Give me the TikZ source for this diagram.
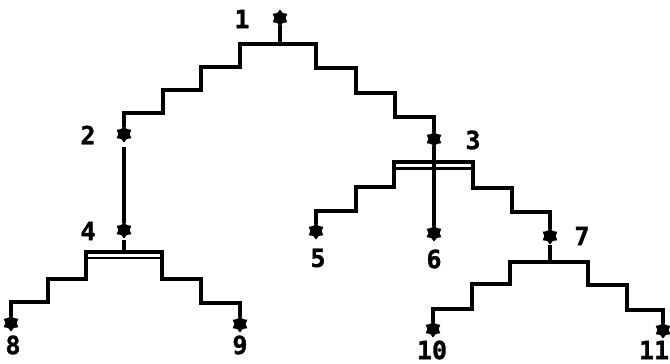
\documentclass[tikz,border=0pt]{standalone}
\usepackage{fontspec}
\newfontfamily\lblfont[FakeBold=1.2]{DejaVu Sans Mono Bold}
\usetikzlibrary{shapes.geometric}
\begin{document}
\begin{tikzpicture}[x=1pt,y=-1pt,
  wire/.style={line width=3.4pt,line join=miter,line cap=rect},
  wirethin/.style={line width=2.4pt,line cap=rect},
  knot/.style={star,star points=6,star point ratio=1.5,minimum size=15pt,inner sep=0pt,fill=black,draw=black,line width=1.2pt},
  lbl/.style={font=\lblfont\fontsize{25}{25}\selectfont,inner sep=0pt,text=black}]
\useasboundingbox (0,0) rectangle (670,364);
\fill[white] (0,0) rectangle (670,364);
% nodes (stars)
\node[knot] (s1) at (280,18) {};
\node[knot] (s2) at (124,134) {};
\node[knot] (s3) at (434,139) {};
\node[knot] (s4) at (124,230) {};
\node[knot] (s5) at (316,231) {};
\node[knot] (s6) at (434,233) {};
\node[knot] (s7) at (550,236) {};
\node[knot] (s8) at (11,323) {};
\node[knot] (s9) at (240,324) {};
\node[knot] (s10) at (433,329) {};
\node[knot] (s11) at (663,330) {};
% labels
\node[lbl] (l1) at (242,19) {1};
\node[lbl] (l2) at (88,135) {2};
\node[lbl] (l3) at (473,140) {3};
\node[lbl] (l4) at (88,231) {4};
\node[lbl] (l5) at (318,258) {5};
\node[lbl] (l6) at (434,259) {6};
\node[lbl] (l7) at (582,236) {7};
\node[lbl] (l8) at (13,345) {8};
\node[lbl] (l9) at (240,345) {9};
\node[lbl] (l10) at (432,350) {10};
\node[lbl] (l11) at (654,350) {11};
% bar coordinates
\coordinate (b1) at (278,44);
\coordinate (b3) at (434,162);
\coordinate (b4) at (124,252);
\coordinate (b7) at (549,262);
% node 1
\draw[wire] (s1.south) -- (s1.south |- b1);
\draw[wire] (b1) -- ++(-38,0) -- ++(0,23) -- ++(-39,0) -- ++(0,23) -- ++(-38,0) -- ++(0,23) -| (s2.north);
\draw[wire] (b1) -- ++(38,0) -- ++(0,24) -- ++(40,0) -- ++(0,25) -- ++(39,0) -- ++(0,24) -| (s3.north);
% node 2 -> 4
\draw[wire] ([yshift=-6pt]s2.south) -- (s4.north);
% node 4
\draw[wire] ([yshift=-3pt]s4.south) -- (b4);
\draw[wire] (b4) -- ++(-38,0) -- ++(0,27) -- ++(-38,0) -- ++(0,23) -| (s8.north);
\draw[wire] (b4) -- ++(38,0) -- ++(0,27) -- ++(39,0) -- ++(0,24) -| (s9.north);
\draw[wirethin] ([shift={(-38,6)}]b4) -- ([shift={(38,6)}]b4);
% node 3
\draw[wire] (s3.south) -- (s6.north);
\draw[wire] (b3) -- ++(-40,0) -- ++(0,25) -- ++(-38,0) -- ++(0,24) -| (s5.north);
\draw[wire] (b3) -- ++(39,0) -- ++(0,26) -- ++(39,0) -- ++(0,24) -| (s7.north);
\draw[wirethin] ([shift={(-40,6.5)}]b3) -- ([shift={(39,6.5)}]b3);
% node 7
\draw[wire] ([yshift=-2pt]s7.south) -- (s7.south |- b7);
\draw[wire] (b7) -- ++(-39,0) -- ++(0,22) -- ++(-38,0) -- ++(0,25) -| (s10.north);
\draw[wire] (b7) -- ++(39,0) -- ++(0,23) -- ++(39,0) -- ++(0,25) -| (s11.north);
\end{tikzpicture}
\end{document}
